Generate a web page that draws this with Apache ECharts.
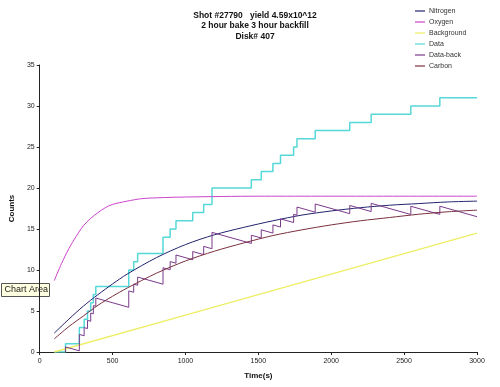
<!DOCTYPE html>
<html><head><meta charset="utf-8">
<script src="https://cdn.jsdelivr.net/npm/echarts@6/dist/echarts.min.js"></script>
<style>html,body{margin:0;padding:0;background:#fff}#c{width:500px;height:387px}</style>
</head><body><div id="c"></div>
<script>
// ---- data ----
const titleLines = ['Shot #27790   yield 4.59x10^12', '2 hour bake 3 hour backfill', 'Disk# 407'];
const seriesNames = ['Nitrogen', 'Oxygen', 'Background', 'Data', 'Data-back', 'Carbon'];
const xTicks = [0, 500, 1000, 1500, 2000, 2500, 3000];
const yTicks = [0, 5, 10, 15, 20, 25, 30, 35];

const nitrogen = [[100,2.3],[200,4.0],[300,5.6],[400,7.0],[500,8.3],[600,9.5],[800,11.5],[1000,13.1],[1200,14.3],[1400,15.2],[1600,16.0],[1800,16.7],[2000,17.2],[2200,17.6],[2400,17.9],[2600,18.1],[2800,18.3],[3000,18.4]];
const oxygen = [[100,8.7],[150,10.8],[200,12.6],[250,14.1],[300,15.4],[350,16.3],[400,17.0],[450,17.6],[500,18.0],[600,18.4],[700,18.7],[800,18.8],[1000,18.9],[1500,19.0],[3000,19.0]];
const background = [[100,0],[1000,4.5],[2000,9.5],[3000,14.5]];
const dataSteps = [[100,0],[177,1],[272,3],[305,4],[328,5],[350,6],[368,7],[385,8],[611,10],[645,11],[672,12],[846,14],[895,15],[935,16],[1050,17],[1125,18],[1182,20],[1452,21],[1520,22],[1600,23],[1652,24],[1742,25],[1765,26],[1890,27],[2127,28],[2274,29],[2546,30],[2745,31],[3000,31]];
const dataBack = [[177,0],[177,0.62],[272,0.14],[272,2.14],[305,1.98],[305,2.98],[328,2.86],[328,3.86],[350,3.75],[350,4.75],[368,4.66],[368,5.66],[385,5.58],[385,6.58],[611,5.45],[611,7.45],[645,7.28],[645,8.28],[672,8.14],[672,9.14],[846,8.27],[846,10.27],[895,10.03],[895,11.03],[935,10.83],[935,11.83],[1050,11.25],[1050,12.25],[1125,11.88],[1125,12.88],[1182,12.59],[1182,14.59],[1452,13.24],[1452,14.24],[1520,13.9],[1520,14.9],[1600,14.5],[1600,15.5],[1652,15.24],[1652,16.24],[1742,15.79],[1742,16.79],[1765,16.68],[1765,17.68],[1890,17.05],[1890,18.05],[2127,16.87],[2127,17.87],[2274,17.13],[2274,18.13],[2546,16.77],[2546,17.77],[2745,16.78],[2745,17.78],[3000,16.5]];
const carbon = [[100,1.6],[200,3.1],[300,4.4],[400,5.7],[500,6.8],[600,7.8],[800,9.6],[1000,11.1],[1200,12.3],[1400,13.3],[1600,14.2],[1800,14.9],[2000,15.5],[2200,16.0],[2400,16.4],[2600,16.8],[2800,17.1],[3000,17.3]];

const colors = ['#23236e', '#cc44cc', '#eeee66', '#55d8d8', '#7a3a8a', '#7a3040'];
const seriesData = [nitrogen, oxygen, background, dataSteps, dataBack, carbon];

const chart = echarts.init(document.getElementById('c'), null, {renderer: 'canvas'});
const font = 'Liberation Sans, Arial, sans-serif';
chart.setOption({
  animation: false,
  backgroundColor: '#ffffff',
  title: {
    text: titleLines.join('\n'),
    left: 250, top: 5, textAlign: 'center',
    textStyle: {fontSize: 8.5, fontWeight: 'bold', fontFamily: font, color: '#111', lineHeight: 10.5}
  },
  legend: {
    data: seriesNames, orient: 'vertical', left: 410, top: 1,
    itemWidth: 10, itemHeight: 1.2, itemGap: 1, icon: 'rect',
    textStyle: {fontSize: 7, fontFamily: font, color: '#333', lineHeight: 10, padding: [0,0,0,-1]}
  },
  grid: {left: 35, right: 23, top: 65, bottom: 35},
  xAxis: {
    type: 'value', min: 0, max: 3000, interval: 500,
    name: 'Time(s)', nameLocation: 'middle', nameGap: 20,
    nameTextStyle: {fontSize: 8, fontWeight: 'bold', fontFamily: font, color: '#111'},
    axisLine: {lineStyle: {color: '#222', width: 1}},
    axisTick: {show: true, length: 3, lineStyle: {color: '#222'}},
    axisLabel: {fontSize: 7, fontFamily: font, color: '#222', margin: 6, formatter: v => String(v)},
    splitLine: {show: false}
  },
  yAxis: {
    type: 'value', min: 0, max: 35, interval: 5,
    name: 'Counts', nameLocation: 'middle', nameGap: 21,
    nameTextStyle: {fontSize: 8, fontWeight: 'bold', fontFamily: font, color: '#111'},
    axisLine: {show: true, lineStyle: {color: '#222', width: 1}},
    axisTick: {show: true, length: 3, lineStyle: {color: '#222'}},
    axisLabel: {fontSize: 7, fontFamily: font, color: '#222', margin: 5, formatter: v => String(v)},
    splitLine: {show: false}
  },
  series: seriesNames.map((n, i) => ({
    name: n, type: 'line', data: seriesData[i], symbol: 'none',
    smooth: (i === 0 || i === 1 || i === 5) ? 0.3 : false,
    step: i === 3 ? 'end' : false,
    clip: true,
    color: colors[i],
    lineStyle: {color: colors[i], width: (i === 2 || i === 3) ? 1.5 : 1},
    z: i === 3 ? 1 : 2
  })),
  graphic: [{
    type: 'group', left: 1, top: 283,
    children: [
      {type: 'rect', shape: {x: 0, y: 0, width: 48, height: 13}, style: {fill: '#ffffe1', stroke: '#555', lineWidth: 1}},
      {type: 'text', x: 3, y: 2, style: {text: 'Chart Area', font: '9px Liberation Sans, Arial, sans-serif', fill: '#222'}}
    ]
  }]
});
</script></body></html>
